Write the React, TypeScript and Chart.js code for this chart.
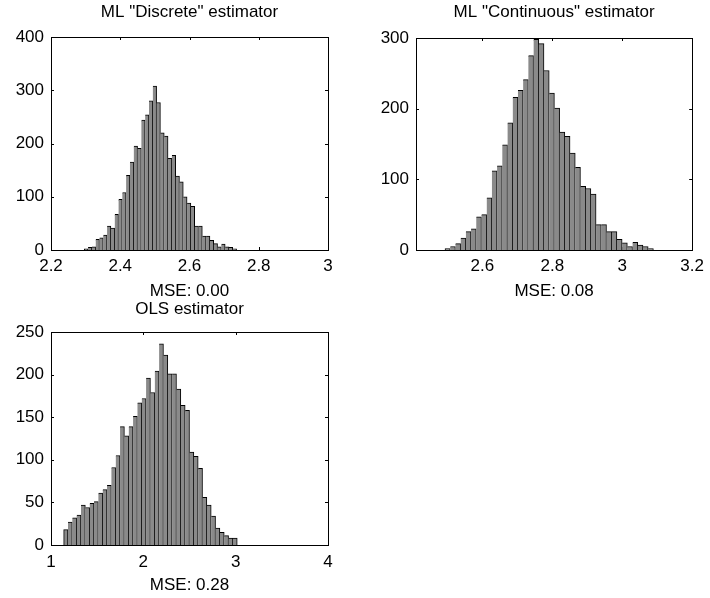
import React, { useEffect, useRef } from 'react';
import { Chart, registerables } from 'chart.js';

Chart.register(...registerables);

const FONT = "'Liberation Sans', Arial, Helvetica, sans-serif";
const FONT_SIZE = 17;
const HALF_LINE = (FONT_SIZE * 1.2) / 2;

// ---- Panel 1: ML "Discrete" estimator ----
const discreteTitle = 'ML "Discrete" estimator';
const discreteXLabel = 'MSE: 0.00';
const discreteBinStart = 2.296;
const discreteBinWidth = 0.011;
const discreteCounts = [
  2, 5, 6, 20, 23, 28, 45, 41, 67, 95,
  108, 140, 165, 195, 191, 244, 254, 280, 308, 277,
  220, 214, 172, 178, 139, 128, 100, 88, 82, 45,
  45, 26, 26, 18, 12, 6, 11, 6, 5, 2,
];
const discreteXTicks = [2.2, 2.4, 2.6, 2.8, 3];
const discreteYTicks = [0, 100, 200, 300, 400];

// ---- Panel 2: ML "Continuous" estimator ----
const continuousTitle = 'ML "Continuous" estimator';
const continuousXLabel = 'MSE: 0.08';
const continuousBinStart = 2.493;
const continuousBinWidth = 0.0149;
const continuousCounts = [
  2, 5, 9, 17, 26, 30, 47, 50, 74, 112,
  119, 149, 180, 216, 226, 241, 275, 298, 292, 254,
  222, 201, 167, 161, 137, 117, 90, 87, 79, 36,
  36, 26, 26, 15, 10, 5, 11, 7, 5, 2,
];
const continuousXTicks = [2.6, 2.8, 3, 3.2];
const continuousYTicks = [0, 100, 200, 300];

// ---- Panel 3: OLS estimator ----
const olsTitle = 'OLS estimator';
const olsXLabel = 'MSE: 0.28';
const olsBinStart = 1.137;
const olsBinWidth = 0.047;
const olsCounts = [
  18, 27, 32, 35, 47, 44, 49, 51, 61, 65,
  70, 91, 105, 139, 128, 139, 151, 167, 172, 196,
  179, 204, 236, 223, 201, 201, 183, 164, 158, 109,
  104, 90, 56, 47, 34, 20, 15, 11, 8, 8,
];
const olsXTicks = [1, 2, 3, 4];
const olsYTicks = [0, 50, 100, 150, 200, 250];

type PanelCfg = {
  title: string;
  xLabel: string;
  binStart: number;
  binWidth: number;
  counts: number[];
  xMin: number;
  xMax: number;
  xTicks: number[];
  yTicks: number[];
  // layout
  left: number;
  top: number;
  width: number;
  height: number;
  yAxisW: number;
  padRight: number;
  titleH: number;
  titleCenter: number;
  xAxisH: number;
  tickPad: number;
  xTitlePadBottom: number;
};

const panels: PanelCfg[] = [
  {
    title: discreteTitle, xLabel: discreteXLabel,
    binStart: discreteBinStart, binWidth: discreteBinWidth, counts: discreteCounts,
    xMin: 2.2, xMax: 3, xTicks: discreteXTicks, yTicks: discreteYTicks,
    left: 0, top: 0, width: 345, height: 302,
    yAxisW: 51, padRight: 17, titleH: 37, titleCenter: 12, xAxisH: 52,
    tickPad: 6, xTitlePadBottom: 0,
  },
  {
    title: continuousTitle, xLabel: continuousXLabel,
    binStart: continuousBinStart, binWidth: continuousBinWidth, counts: continuousCounts,
    xMin: 2.41, xMax: 3.2, xTicks: continuousXTicks, yTicks: continuousYTicks,
    left: 355, top: 0, width: 355, height: 302,
    yAxisW: 61, padRight: 15, titleH: 38, titleCenter: 12, xAxisH: 52,
    tickPad: 6, xTitlePadBottom: 0,
  },
  {
    title: olsTitle, xLabel: olsXLabel,
    binStart: olsBinStart, binWidth: olsBinWidth, counts: olsCounts,
    xMin: 1, xMax: 4, xTicks: olsXTicks, yTicks: olsYTicks,
    left: 0, top: 295, width: 345, height: 303,
    yAxisW: 51, padRight: 17, titleH: 37, titleCenter: 14, xAxisH: 53,
    tickPad: 7, xTitlePadBottom: 2,
  },
];

const boxPlugin = {
  id: 'matlabBox',
  beforeDatasetsDraw(chart: any) {
    const { ctx, chartArea: a, scales } = chart;
    const tl = 3;
    ctx.save();
    ctx.strokeStyle = '#000';
    ctx.lineWidth = 1;
    ctx.beginPath();
    scales.x.ticks.forEach((t: any) => {
      const px = Math.round(scales.x.getPixelForValue(t.value)) + 0.5;
      ctx.moveTo(px, a.bottom);
      ctx.lineTo(px, a.bottom - tl);
      ctx.moveTo(px, a.top);
      ctx.lineTo(px, a.top + tl);
    });
    scales.y.ticks.forEach((t: any) => {
      const py = Math.round(scales.y.getPixelForValue(t.value)) + 0.5;
      ctx.moveTo(a.left, py);
      ctx.lineTo(a.left + tl, py);
      ctx.moveTo(a.right, py);
      ctx.lineTo(a.right - tl, py);
    });
    ctx.stroke();
    ctx.restore();
  },
  afterDatasetsDraw(chart: any) {
    const { ctx, chartArea: a } = chart;
    ctx.save();
    ctx.strokeStyle = '#000';
    ctx.lineWidth = 1;
    ctx.strokeRect(
      Math.round(a.left) + 0.5,
      Math.round(a.top) + 0.5,
      Math.round(a.right) - Math.round(a.left),
      Math.round(a.bottom) - Math.round(a.top)
    );
    ctx.restore();
  },
};

function Panel({ cfg }: { cfg: PanelCfg }) {
  const ref = useRef<HTMLCanvasElement>(null);
  useEffect(() => {
    if (!ref.current) return;
    const centers = cfg.counts.map((_, i) => cfg.binStart + (i + 0.5) * cfg.binWidth);
    const font = { size: FONT_SIZE, family: FONT, weight: 'normal' as const };
    const chart = new Chart(ref.current, {
      type: 'bar',
      data: {
        datasets: [
          {
            data: centers.map((x, i) => ({ x, y: cfg.counts[i] })),
            backgroundColor: '#8a8a8a',
            borderColor: '#000000',
            borderWidth: (c: any) =>
              c.dataIndex === 0
                ? { left: 1, top: 1, right: 1, bottom: 0 }
                : { left: 0, top: 1, right: 1, bottom: 0 },
            borderSkipped: false,
            barPercentage: 1,
            categoryPercentage: 1,
          } as any,
        ],
      },
      options: {
        animation: false,
        responsive: false,
        maintainAspectRatio: false,
        layout: { padding: { left: 0, right: cfg.padRight, top: 0, bottom: 0 } },
        plugins: {
          legend: { display: false },
          tooltip: { enabled: false },
          title: {
            display: true,
            text: cfg.title,
            fullSize: false,
            color: '#000',
            font,
            padding: {
              top: cfg.titleCenter - HALF_LINE,
              bottom: cfg.titleH - cfg.titleCenter - HALF_LINE,
            },
          },
        },
        scales: {
          x: {
            type: 'linear',
            min: cfg.xMin,
            max: cfg.xMax,
            offset: false,
            grid: { display: false, drawTicks: false },
            border: { display: false },
            afterBuildTicks: (s: any) => {
              s.ticks = cfg.xTicks.map((v) => ({ value: v }));
            },
            afterFit: (s: any) => {
              s.height = cfg.xAxisH;
            },
            ticks: {
              color: '#000',
              font,
              padding: cfg.tickPad,
              maxRotation: 0,
              autoSkip: false,
              callback: (v: any) => String(v),
            },
            title: {
              display: true,
              text: cfg.xLabel,
              color: '#000',
              font,
              padding: { top: 0, bottom: cfg.xTitlePadBottom },
            },
          },
          y: {
            type: 'linear',
            min: 0,
            max: cfg.yTicks[cfg.yTicks.length - 1],
            grid: { display: false, drawTicks: false },
            border: { display: false },
            afterBuildTicks: (s: any) => {
              s.ticks = cfg.yTicks.map((v) => ({ value: v }));
            },
            afterFit: (s: any) => {
              s.width = cfg.yAxisW;
            },
            ticks: {
              color: '#000',
              font,
              padding: 7,
              autoSkip: false,
              callback: (v: any) => String(v),
            },
          },
        },
      } as any,
      plugins: [boxPlugin],
    });
    return () => chart.destroy();
  }, [cfg]);
  return (
    <canvas
      ref={ref}
      width={cfg.width}
      height={cfg.height}
      style={{
        position: 'absolute',
        left: cfg.left,
        top: cfg.top,
        width: cfg.width,
        height: cfg.height,
      }}
    />
  );
}

export default function App() {
  return (
    <div
      style={{
        position: 'absolute',
        left: 0,
        top: 0,
        width: 710,
        height: 598,
        background: '#ffffff',
        overflow: 'hidden',
      }}
    >
      {panels.map((p, i) => (
        <Panel key={i} cfg={p} />
      ))}
    </div>
  );
}
